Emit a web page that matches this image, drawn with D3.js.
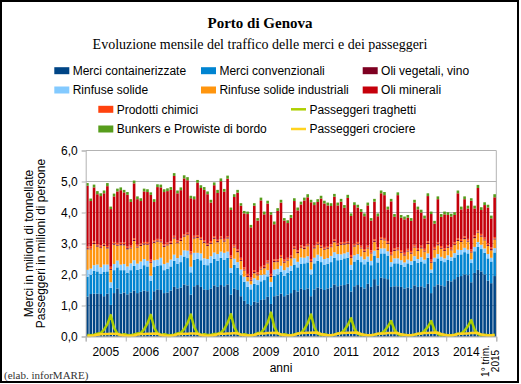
<!DOCTYPE html>
<html>
<head>
<meta charset="utf-8">
<script src="https://cdn.jsdelivr.net/npm/d3@7"></script>
<style>
  body { margin: 0; background: #fff; }
  svg { display: block; }
</style>
</head>
<body>
<div id="chart"></div>
<script>
const width = 521;
const height = 384;

// categories
const years = ["2005", "2006", "2007", "2008", "2009", "2010", "2011", "2012", "2013", "2014"];
const lastLabel = ["1° trim.", "2015"];
const yTicks = [0, 1, 2, 3, 4, 5, 6];

// merci, milioni di tonnellate (gen 2005 - mar 2015)
const containerizzate = [
  1.29,1.37,1.38,1.38,1.37,1.30,1.38,1.02,1.40,1.55,1.38,1.42,
  1.36,1.42,1.48,1.40,1.44,1.48,1.46,1.18,1.46,1.52,1.50,1.40,
  1.42,1.48,1.60,1.55,1.58,1.68,1.65,1.35,1.62,1.66,1.60,1.52,
  1.50,1.55,1.65,1.60,1.66,1.62,1.68,1.35,1.55,1.50,1.30,1.15,
  1.05,1.00,1.12,1.10,1.18,1.20,1.28,1.05,1.30,1.32,1.38,1.30,
  1.35,1.40,1.50,1.45,1.55,1.50,1.55,1.30,1.52,1.58,1.55,1.50,
  1.55,1.58,1.68,1.62,1.65,1.66,1.70,1.45,1.62,1.66,1.60,1.55,
  1.70,1.60,1.85,1.65,1.90,1.88,1.85,1.60,1.62,1.62,1.60,1.55,
  1.58,1.55,1.65,1.60,1.62,1.58,1.70,1.40,1.62,1.68,1.65,1.62,
  1.80,1.78,1.85,1.92,1.95,2.00,1.98,1.75,2.05,2.15,2.10,2.00,
  1.80,1.72,1.95
];
const convenzionali = [
  0.64,0.62,0.74,0.72,0.66,0.78,0.72,0.55,0.74,0.68,0.76,0.72,
  0.70,0.72,0.80,0.75,0.74,0.82,0.80,0.62,0.78,0.76,0.80,0.74,
  0.76,0.78,0.84,0.80,0.82,0.90,0.88,0.72,0.86,0.84,0.86,0.80,
  0.80,0.82,0.86,0.84,0.88,0.86,0.86,0.70,0.76,0.72,0.68,0.62,
  0.55,0.52,0.58,0.56,0.60,0.62,0.66,0.55,0.66,0.68,0.70,0.66,
  0.70,0.72,0.82,0.78,0.80,0.86,0.84,0.70,0.84,0.86,0.85,0.82,
  0.80,0.82,0.86,0.84,0.82,0.86,0.84,0.70,0.80,0.82,0.80,0.78,
  0.72,0.70,0.76,0.74,0.78,0.80,0.76,0.66,0.74,0.74,0.72,0.70,
  0.78,0.76,0.80,0.78,0.80,0.78,0.84,0.66,0.80,0.84,0.80,0.78,
  0.68,0.66,0.70,0.72,0.70,0.72,0.70,0.62,0.70,0.74,0.72,0.70,
  0.72,0.70,0.76
];
const rinfuseSolide = [
  0.22,0.20,0.18,0.22,0.20,0.24,0.22,0.18,0.20,0.22,0.18,0.20,
  0.20,0.22,0.18,0.20,0.24,0.20,0.18,0.16,0.22,0.20,0.24,0.20,
  0.20,0.22,0.20,0.18,0.22,0.20,0.24,0.18,0.22,0.20,0.22,0.20,
  0.20,0.22,0.20,0.22,0.20,0.22,0.20,0.16,0.20,0.18,0.18,0.16,
  0.18,0.16,0.18,0.16,0.20,0.18,0.20,0.16,0.20,0.18,0.20,0.18,
  0.18,0.16,0.20,0.18,0.20,0.18,0.20,0.16,0.18,0.20,0.18,0.18,
  0.18,0.20,0.18,0.20,0.18,0.16,0.18,0.16,0.20,0.18,0.18,0.16,
  0.16,0.14,0.16,0.14,0.16,0.16,0.14,0.14,0.16,0.16,0.14,0.14,
  0.12,0.12,0.14,0.12,0.14,0.12,0.14,0.10,0.12,0.14,0.12,0.12,
  0.14,0.12,0.14,0.16,0.14,0.14,0.12,0.12,0.14,0.16,0.14,0.14,
  0.14,0.12,0.14
];
const rinfuseIndustriali = [
  0.66,0.62,0.68,0.58,0.62,0.60,0.52,0.40,0.62,0.48,0.62,0.60,
  0.55,0.48,0.62,0.52,0.50,0.46,0.52,0.42,0.56,0.58,0.50,0.55,
  0.56,0.50,0.52,0.48,0.46,0.44,0.50,0.40,0.46,0.48,0.44,0.50,
  0.42,0.40,0.44,0.38,0.40,0.36,0.42,0.30,0.36,0.32,0.28,0.20,
  0.14,0.12,0.16,0.15,0.18,0.20,0.22,0.16,0.24,0.22,0.26,0.24,
  0.22,0.24,0.30,0.28,0.30,0.28,0.32,0.24,0.30,0.32,0.28,0.30,
  0.30,0.28,0.32,0.26,0.30,0.28,0.26,0.22,0.28,0.30,0.26,0.24,
  0.26,0.24,0.28,0.26,0.28,0.26,0.24,0.22,0.24,0.26,0.24,0.22,
  0.26,0.24,0.28,0.26,0.28,0.26,0.30,0.22,0.26,0.28,0.26,0.24,
  0.24,0.22,0.26,0.28,0.26,0.28,0.26,0.22,0.28,0.30,0.26,0.26,
  0.26,0.24,0.28
];
const oliVegetali = [
  0.04,0.03,0.04,0.04,0.03,0.04,0.04,0.03,0.04,0.03,0.04,0.04,
  0.04,0.03,0.04,0.03,0.04,0.04,0.03,0.03,0.04,0.04,0.03,0.04,
  0.03,0.04,0.04,0.03,0.04,0.04,0.03,0.03,0.04,0.03,0.04,0.04,
  0.04,0.03,0.04,0.04,0.03,0.04,0.04,0.03,0.03,0.04,0.03,0.03,
  0.03,0.03,0.04,0.03,0.03,0.04,0.03,0.03,0.04,0.03,0.03,0.04,
  0.03,0.04,0.03,0.04,0.03,0.04,0.03,0.03,0.04,0.03,0.04,0.03,
  0.04,0.03,0.04,0.03,0.03,0.04,0.03,0.03,0.04,0.03,0.03,0.04,
  0.03,0.03,0.04,0.03,0.04,0.03,0.03,0.03,0.04,0.03,0.03,0.04,
  0.03,0.04,0.03,0.03,0.04,0.03,0.04,0.03,0.03,0.04,0.03,0.03,
  0.04,0.03,0.03,0.04,0.03,0.04,0.03,0.03,0.04,0.03,0.04,0.03,
  0.03,0.04,0.03
];
const oliMinerali = [
  1.96,1.46,1.74,1.61,1.59,1.61,1.93,1.86,1.47,1.66,1.69,1.61,
  1.67,1.41,1.77,1.47,1.36,1.63,1.61,2.09,1.23,1.67,1.68,1.68,
  1.66,1.66,1.93,1.52,1.55,1.80,1.69,1.71,1.18,1.69,1.58,1.62,
  1.58,1.24,1.64,1.51,1.78,1.52,1.85,1.47,1.54,1.83,1.68,1.74,
  1.93,1.62,2.08,1.67,2.14,1.65,1.84,1.91,1.13,1.56,1.69,1.26,
  1.12,1.22,1.46,1.29,1.32,1.48,1.50,1.83,1.31,1.29,1.50,1.40,
  1.31,1.24,1.38,1.22,1.31,1.10,1.41,1.26,1.25,1.11,1.09,1.06,
  1.30,0.96,1.21,1.00,1.41,1.38,1.02,1.64,1.01,1.69,1.04,1.08,
  1.00,0.97,1.36,1.25,1.07,0.98,1.46,1.47,0.75,1.40,0.94,1.09,
  0.97,1.00,0.88,1.45,0.96,1.20,0.98,1.57,0.87,1.36,0.77,1.05,
  1.15,0.94,1.28
];
const prodottiChimici = [
  0.05,0.07,0.05,0.04,0.06,0.05,0.04,0.07,0.05,0.06,0.05,0.06,
  0.05,0.06,0.05,0.06,0.05,0.05,0.06,0.07,0.05,0.05,0.06,0.05,
  0.06,0.05,0.05,0.06,0.05,0.04,0.05,0.07,0.05,0.06,0.05,0.05,
  0.05,0.06,0.05,0.04,0.06,0.05,0.04,0.07,0.06,0.05,0.07,0.07,
  0.07,0.07,0.06,0.07,0.06,0.05,0.06,0.07,0.05,0.06,0.06,0.06,
  0.06,0.05,0.06,0.05,0.06,0.05,0.05,0.07,0.05,0.06,0.05,0.06,
  0.05,0.06,0.05,0.06,0.06,0.05,0.05,0.07,0.05,0.06,0.06,0.05,
  0.06,0.07,0.05,0.06,0.05,0.05,0.06,0.07,0.05,0.06,0.06,0.05,
  0.06,0.05,0.06,0.06,0.05,0.06,0.05,0.07,0.06,0.05,0.06,0.06,
  0.05,0.06,0.06,0.05,0.06,0.05,0.06,0.07,0.05,0.05,0.05,0.06,
  0.06,0.05,0.05
];
const bunkers = [
  0.09,0.08,0.09,0.10,0.09,0.09,0.10,0.08,0.09,0.09,0.09,0.08,
  0.09,0.09,0.09,0.09,0.09,0.09,0.09,0.08,0.09,0.09,0.09,0.09,
  0.09,0.09,0.09,0.09,0.09,0.10,0.10,0.08,0.09,0.09,0.09,0.09,
  0.09,0.09,0.09,0.10,0.09,0.09,0.10,0.08,0.09,0.09,0.08,0.08,
  0.08,0.08,0.08,0.08,0.09,0.09,0.09,0.08,0.09,0.09,0.09,0.08,
  0.09,0.09,0.09,0.09,0.09,0.09,0.10,0.08,0.09,0.09,0.09,0.09,
  0.09,0.09,0.09,0.09,0.09,0.09,0.10,0.08,0.09,0.09,0.09,0.09,
  0.09,0.08,0.09,0.09,0.09,0.10,0.09,0.08,0.09,0.09,0.09,0.09,
  0.09,0.09,0.09,0.09,0.09,0.09,0.09,0.08,0.09,0.09,0.09,0.09,
  0.09,0.09,0.09,0.09,0.09,0.09,0.09,0.08,0.09,0.10,0.09,0.09,
  0.09,0.09,0.10
];

// passeggeri, milioni di persone
const traghetti = [
  0.05,0.04,0.06,0.09,0.11,0.22,0.40,0.69,0.28,0.09,0.05,0.07,
  0.05,0.04,0.07,0.10,0.11,0.23,0.42,0.70,0.29,0.10,0.05,0.07,
  0.05,0.04,0.06,0.10,0.12,0.24,0.43,0.71,0.30,0.10,0.05,0.07,
  0.05,0.05,0.08,0.09,0.12,0.24,0.44,0.72,0.30,0.10,0.05,0.07,
  0.05,0.04,0.06,0.11,0.12,0.25,0.45,0.77,0.31,0.10,0.05,0.07,
  0.05,0.04,0.07,0.10,0.11,0.24,0.43,0.71,0.29,0.09,0.05,0.07,
  0.05,0.04,0.06,0.10,0.11,0.21,0.37,0.59,0.25,0.09,0.05,0.06,
  0.04,0.04,0.06,0.08,0.10,0.18,0.32,0.50,0.22,0.08,0.04,0.06,
  0.04,0.04,0.06,0.08,0.10,0.18,0.31,0.50,0.21,0.08,0.04,0.06,
  0.04,0.04,0.06,0.09,0.10,0.19,0.33,0.53,0.22,0.08,0.04,0.06,
  0.04,0.04,0.06
];
const crociere = [
  0.02,0.02,0.03,0.06,0.07,0.08,0.08,0.09,0.09,0.08,0.05,0.03,
  0.02,0.02,0.03,0.06,0.08,0.08,0.09,0.09,0.10,0.09,0.05,0.03,
  0.02,0.02,0.04,0.07,0.08,0.09,0.09,0.10,0.10,0.09,0.05,0.03,
  0.02,0.03,0.04,0.07,0.09,0.09,0.10,0.10,0.11,0.10,0.06,0.04,
  0.03,0.03,0.05,0.08,0.10,0.10,0.11,0.11,0.12,0.11,0.07,0.04,
  0.03,0.03,0.05,0.09,0.11,0.11,0.12,0.12,0.13,0.12,0.08,0.05,
  0.04,0.04,0.06,0.09,0.11,0.11,0.12,0.12,0.13,0.12,0.08,0.05,
  0.04,0.04,0.06,0.09,0.10,0.10,0.11,0.11,0.12,0.11,0.07,0.05,
  0.04,0.04,0.06,0.09,0.10,0.11,0.11,0.12,0.13,0.12,0.08,0.05,
  0.03,0.03,0.05,0.08,0.09,0.10,0.10,0.11,0.12,0.11,0.07,0.04,
  0.03,0.03,0.05
];

const stackSeries = [
  { name: "Merci containerizzate", values: containerizzate, color: "#004586" },
  { name: "Merci convenzionali", values: convenzionali, color: "#0084d1" },
  { name: "Rinfuse solide", values: rinfuseSolide, color: "#83caff" },
  { name: "Rinfuse solide industriali", values: rinfuseIndustriali, color: "#ff950e" },
  { name: "Oli vegetali, vino", values: oliVegetali, color: "#7e0021" },
  { name: "Prodotti chimici", values: prodottiChimici, color: "#ff420e" },
  { name: "Oli minerali", values: oliMinerali, color: "#c5000b" },
  { name: "Bunkers e Prowiste di bordo", values: bunkers, color: "#579d1c" }
];
const lineSeries = [
  { name: "Passeggeri traghetti", values: traghetti, color: "#aecf00" },
  { name: "Passeggeri crociere", values: crociere, color: "#ffd320" }
];

const nMonths = containerizzate.length;
const months = d3.range(nMonths);

const rows = months.map(i => {
  const r = { i };
  stackSeries.forEach(s => { r[s.name] = s.values[i]; });
  return r;
});

const svg = d3.select("#chart")
  .append("svg")
  .attr("width", width)
  .attr("height", height)
  .style("font-family", "'Liberation Sans', Arial, sans-serif");

svg.append("rect")
  .attr("x", 1).attr("y", 1)
  .attr("width", 517).attr("height", 381)
  .attr("fill", "#fff")
  .attr("stroke", "#000")
  .attr("stroke-width", 2);

const plotLeft = 85.7, plotRight = 496.3, plotTop = 150.5, plotBottom = 336.5;

const xBand = d3.scaleBand().domain(months).range([plotLeft, plotRight]).paddingInner(0.22).paddingOuter(0.11);
const xMonth = d3.scaleLinear().domain([0, nMonths]).range([plotLeft, plotRight]);
const y = d3.scaleLinear().domain([0, 6]).range([plotBottom, plotTop]);

// titles
svg.append("text")
  .attr("x", 260).attr("y", 28)
  .attr("text-anchor", "middle")
  .style("font-family", "'Liberation Serif', 'Times New Roman', serif")
  .style("font-weight", "bold")
  .style("font-size", "15px")
  .text("Porto di Genova");

svg.append("text")
  .attr("x", 260).attr("y", 49)
  .attr("text-anchor", "middle")
  .style("font-family", "'Liberation Serif', 'Times New Roman', serif")
  .style("font-size", "14px")
  .text("Evoluzione mensile del traffico delle merci e dei passeggeri");

// legend
const legendItems = [
  { s: stackSeries[0], x: 54.3, y: 70.7 },
  { s: stackSeries[1], x: 201, y: 70.7 },
  { s: stackSeries[4], x: 362.7, y: 70.7 },
  { s: stackSeries[2], x: 54.3, y: 90 },
  { s: stackSeries[3], x: 201, y: 90 },
  { s: stackSeries[6], x: 362.7, y: 90 },
  { s: stackSeries[5], x: 98.3, y: 109.3 },
  { s: lineSeries[0], x: 291, y: 109.3, line: true },
  { s: stackSeries[7], x: 98.3, y: 129 },
  { s: lineSeries[1], x: 291, y: 129, line: true }
];
const legend = svg.append("g");
legendItems.forEach(d => {
  if (d.line) {
    legend.append("line")
      .attr("x1", d.x).attr("x2", d.x + 15)
      .attr("y1", d.y).attr("y2", d.y)
      .attr("stroke", d.s.color).attr("stroke-width", 2.5);
  } else {
    legend.append("rect")
      .attr("x", d.x).attr("y", d.y - 3.5)
      .attr("width", 15).attr("height", 7)
      .attr("fill", d.s.color);
  }
  legend.append("text")
    .attr("x", d.x + 18.4).attr("y", d.y + 4.3)
    .style("font-size", "12px")
    .text(d.s.name);
});

// grid
svg.append("g")
  .selectAll("line")
  .data(yTicks)
  .join("line")
  .attr("x1", plotLeft).attr("x2", plotRight)
  .attr("y1", d => y(d)).attr("y2", d => y(d))
  .attr("stroke", "#b3b3b3");

svg.append("line")
  .attr("x1", plotRight).attr("x2", plotRight)
  .attr("y1", plotTop).attr("y2", plotBottom)
  .attr("stroke", "#b3b3b3");

// stacked bars
const stack = d3.stack().keys(stackSeries.map(s => s.name));
const layers = stack(rows);

svg.append("g")
  .selectAll("g")
  .data(layers)
  .join("g")
  .attr("fill", (d, i) => stackSeries[i].color)
  .selectAll("rect")
  .data(d => d)
  .join("rect")
  .attr("x", d => xBand(d.data.i))
  .attr("width", xBand.bandwidth())
  .attr("y", d => y(d[1]))
  .attr("height", d => y(d[0]) - y(d[1]));

// passenger lines
const line = d3.line()
  .x((d, i) => xBand(i) + xBand.bandwidth() / 2)
  .y(d => y(d));

lineSeries.forEach(s => {
  svg.append("path")
    .datum(s.values)
    .attr("fill", "none")
    .attr("stroke", s.color)
    .attr("stroke-width", 2.5)
    .attr("stroke-linejoin", "round")
    .attr("d", line);
});

// y axis
const yAxis = svg.append("g")
  .attr("transform", `translate(${plotLeft},0)`)
  .call(d3.axisLeft(y).tickValues(yTicks).tickSize(4).tickPadding(4)
    .tickFormat(d => d3.format(".1f")(d).replace(".", ",")));
yAxis.selectAll("line, path").attr("stroke", "#b3b3b3");
yAxis.selectAll("text").style("font-size", "12px").style("font-family", "'Liberation Sans', Arial, sans-serif").attr("fill", "#000");

// x axis
const yearTicks = years.map((d, i) => i * 12).concat([nMonths]);
const xAxis = svg.append("g")
  .attr("transform", `translate(0,${plotBottom})`)
  .call(d3.axisBottom(xMonth).tickValues(yearTicks).tickSize(5).tickFormat(""));
xAxis.selectAll("line, path").attr("stroke", "#b3b3b3");

svg.append("g")
  .selectAll("text")
  .data(years)
  .join("text")
  .attr("x", (d, i) => xMonth(i * 12 + 6))
  .attr("y", 356)
  .attr("text-anchor", "middle")
  .style("font-size", "12px")
  .text(d => d);

const lastX = xMonth(nMonths - 1.5);
lastLabel.forEach((t, i) => {
  svg.append("text")
    .attr("transform", `translate(${lastX - 2.5 + i * 10.5},361) rotate(-90)`)
    .attr("text-anchor", "middle")
    .style("font-size", "10px")
    .text(t);
});

svg.append("text")
  .attr("x", 281).attr("y", 372)
  .attr("text-anchor", "middle")
  .style("font-size", "12px")
  .text("anni");

// y axis title
["Merci in milioni di tonnellate", "Passeggeri in milioni di persone"].forEach((t, i) => {
  svg.append("text")
    .attr("transform", `translate(${33 + i * 12},243.5) rotate(-90)`)
    .attr("text-anchor", "middle")
    .style("font-size", "12px")
    .text(t);
});

svg.append("text")
  .attr("x", 4).attr("y", 378.5)
  .style("font-family", "'Liberation Serif', 'Times New Roman', serif")
  .style("font-size", "11px")
  .attr("fill", "#333")
  .text("(elab. inforMARE)");
</script>
</body>
</html>
